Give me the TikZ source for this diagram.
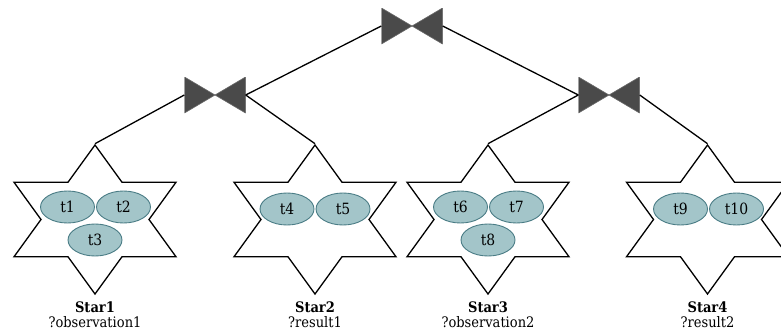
\documentclass[tikz,border=0pt]{standalone}
\usepackage{fontspec}
\IfFontExistsTF{DejaVu Serif Condensed}
  {\setmainfont{DejaVu Serif Condensed}}
  {\setmainfont{DejaVu Serif}}
\usetikzlibrary{shapes.geometric}
\definecolor{bowgray}{HTML}{4A4A4A}
\definecolor{bowedge}{HTML}{6A6A6A}
\definecolor{taskfill}{HTML}{A3C5C9}
\definecolor{taskline}{HTML}{4A7C85}
\begin{document}
\begin{tikzpicture}[x=1pt,y=-1pt,
  edge/.style={line width=1.3pt},
  starnode/.style={draw, line width=1.3pt, shape=star, star points=6,
    star point ratio=1.732, minimum size=149pt, inner sep=0pt, xscale=1.2554},
  bowtie/.style={minimum width=61pt, minimum height=36pt, inner sep=0pt,
    path picture={
      \filldraw[fill=bowgray, draw=bowedge, line width=0.6pt]
        (path picture bounding box.north west) -- (path picture bounding box.south west)
        -- (path picture bounding box.center) -- cycle;
      \filldraw[fill=bowgray, draw=bowedge, line width=0.6pt]
        (path picture bounding box.north east) -- (path picture bounding box.south east)
        -- (path picture bounding box.center) -- cycle;
    }},
  task/.style={ellipse, draw=taskline, fill=taskfill, line width=0.9pt,
    minimum width=54pt, minimum height=32pt, inner sep=0pt,
    font=\fontsize{15.5}{17}\selectfont},
  sname/.style={anchor=base, inner sep=0pt, font=\bfseries\fontsize{14.5}{16}\selectfont},
  svar/.style={anchor=base, inner sep=0pt, font=\fontsize{14.5}{16}\selectfont}
]
\useasboundingbox (0,0) rectangle (781,332);

% stars
\node[starnode] (s1) at (95,219.5) {};
\node[starnode] (s2) at (315,219.5) {};
\node[starnode] (s3) at (488,219.5) {};
\node[starnode] (s4) at (707.5,219.5) {};

% operators
\node[bowtie] (b0) at (412,26) {};
\node[bowtie] (b1) at (215,95) {};
\node[bowtie] (b2) at (609,95) {};

% tree edges
\draw[edge] (b0.west) -- (b1.east);
\draw[edge] (b0.east) -- (b2.west);
\draw[edge] (b1.west) -- (s1.outer point 1);
\draw[edge] (b1.east) -- (s2.outer point 1);
\draw[edge] (b2.west) -- (s3.outer point 1);
\draw[edge] (b2.east) -- (s4.outer point 1);

% triple patterns
\node[task] (t1) at (67.5,207) {t1};
\node[task] (t2) at (123.5,207) {t2};
\node[task] (t3) at (95,240) {t3};
\node[task] (t4) at (287,209) {t4};
\node[task] (t5) at (343,209) {t5};
\node[task] (t6) at (460.5,207) {t6};
\node[task] (t7) at (516.5,207) {t7};
\node[task] (t8) at (488,240) {t8};
\node[task] (t9) at (680.5,209) {t9};
\node[task] (t10) at (736.5,209) {t10};

% star captions
\node[sname] (n1) at (95,312.7) {Star1};
\node[svar] (v1) at (95,327) {?observation1};
\node[sname] (n2) at (315,312.7) {Star2};
\node[svar] (v2) at (315,327) {?result1};
\node[sname] (n3) at (488,312.7) {Star3};
\node[svar] (v3) at (488,327) {?observation2};
\node[sname] (n4) at (707.5,312.7) {Star4};
\node[svar] (v4) at (707.5,327) {?result2};
\end{tikzpicture}
\end{document}
